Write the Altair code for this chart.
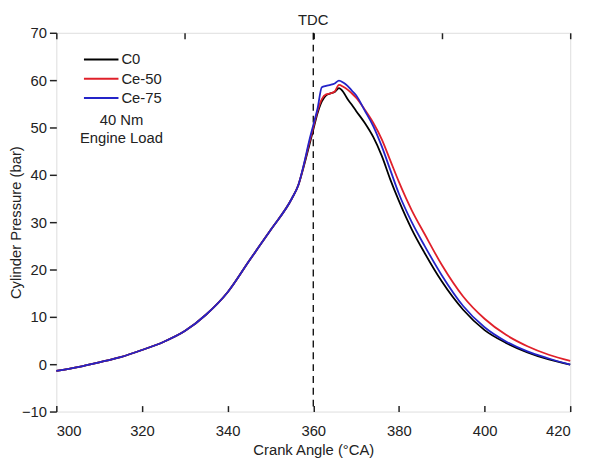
import altair as alt
import pandas as pd

angles = [300, 305, 310, 315, 320, 325, 330, 335, 340, 345, 350, 355, 356.5, 358, 359,
          360, 361, 362, 363, 364, 365, 366, 367, 368, 369, 370, 372, 374, 376, 378,
          380, 383, 386, 390, 395, 400, 405, 410, 415, 420]

c0 = [-1.4, -0.6, 0.4, 1.5, 3.0, 4.7, 7.0, 10.5, 15.2, 21.8, 28.3, 35.0, 37.8, 42.5, 46.0,
      49.5, 53.0, 55.5, 56.8, 57.2, 57.5, 58.3, 57.5, 56.0, 54.8, 53.5, 51.0, 48.0, 44.0, 39.0,
      34.5, 28.5, 23.5, 17.5, 11.5, 7.2, 4.5, 2.5, 1.0, -0.1]

ce50 = [-1.4, -0.6, 0.4, 1.5, 3.0, 4.7, 7.0, 10.5, 15.2, 21.8, 28.3, 35.0, 37.8, 42.8, 46.5,
        50.0, 53.5, 56.0, 57.0, 57.2, 57.6, 59.0, 58.6, 58.0, 57.2, 56.3, 53.8, 51.0, 47.5, 43.0,
        38.5, 32.5, 27.5, 21.0, 14.3, 9.6, 6.2, 3.8, 2.0, 0.7]

ce75 = [-1.4, -0.6, 0.4, 1.5, 3.0, 4.7, 7.0, 10.5, 15.2, 21.8, 28.3, 35.0, 37.8, 43.0, 47.0,
        50.5, 54.0, 58.5, 58.8, 59.0, 59.3, 59.9, 59.5, 58.8, 57.8, 56.8, 53.6, 50.3, 46.0, 41.0,
        36.0, 30.0, 25.0, 18.8, 12.3, 7.8, 4.8, 2.7, 1.2, -0.1]

fuels = ["C0", "Ce-50", "Ce-75"]
colors = ["#000000", "#e0202a", "#2424c8"]
series = [c0, ce50, ce75]

x_ticks = [300, 320, 340, 360, 380, 400, 420]
x_top_ticks = [300, 330, 360, 390, 420]
y_ticks = [-10, 0, 10, 20, 30, 40, 50, 60, 70]
tdc_angle = [360]

rows = []
for f, vals in zip(fuels, series):
    for a, p in zip(angles, vals):
        rows.append({"angle": a, "pressure": p, "fuel": f})
df = pd.DataFrame(rows)

legend_df = pd.DataFrame({"fuel": fuels, "idx": list(range(len(fuels)))})

FONT = "Liberation Sans"
FS = 15
xscale = alt.Scale(domain=[300, 420], nice=False, zero=False)
yscale = alt.Scale(domain=[-10, 70], nice=False, zero=False)
cscale = alt.Scale(domain=fuels, range=colors)

lines = alt.Chart(df).mark_line(strokeWidth=1.8, interpolate="monotone").encode(
    x=alt.X("angle:Q", scale=xscale,
            axis=alt.Axis(orient="bottom", values=x_ticks, ticks=False, domain=False, grid=False,
                          title="Crank Angle (°CA)", labelPadding=12, titlePadding=5,
                          labelFontSize=FS, titleFontSize=FS, labelFont=FONT, titleFont=FONT,
                          titleFontWeight="normal", labelColor="#222", titleColor="#222")),
    y=alt.Y("pressure:Q", scale=yscale,
            axis=alt.Axis(values=y_ticks, tickSize=7, tickColor="#222", tickWidth=1.5,
                          domain=False, grid=False, labelPadding=3,
                          title="Cylinder Pressure (bar)", titleX=-41, titleY=192,
                          titleBaseline="middle", titleAlign="center", titleAngle=270,
                          labelFontSize=FS, titleFontSize=FS, labelFont=FONT, titleFont=FONT,
                          titleFontWeight="normal", labelColor="#222", titleColor="#222")),
    color=alt.Color("fuel:N", scale=cscale, legend=None),
)

tick_df = pd.DataFrame({"angle": x_ticks})
bottom_ticks = alt.Chart(tick_df).mark_point(opacity=0).encode(
    x=alt.X("angle:Q", scale=xscale,
            axis=alt.Axis(orient="bottom", values=x_ticks, offset=-6, tickSize=6, tickWidth=1.5,
                          tickColor="#222", labels=False, domain=False, grid=False, title=None))
)

top_df = pd.DataFrame({"angle": x_top_ticks})
top_ticks = alt.Chart(top_df).mark_point(opacity=0).encode(
    x=alt.X("angle:Q", scale=xscale,
            axis=alt.Axis(orient="top", values=x_top_ticks, offset=-6, tickSize=6, tickWidth=1.5,
                          tickColor="#222", labels=False, domain=False, grid=False, title=None))
)

tdc_df = pd.DataFrame({"angle": tdc_angle})
tdc_rule = alt.Chart(tdc_df).mark_rule(color="black", strokeDash=[7, 5], strokeWidth=1.3).encode(
    x=alt.X("angle:Q", scale=xscale, axis=None)
)
tdc_text = alt.Chart(tdc_df).mark_text(text="TDC", fontSize=FS, font=FONT, color="#222",
                                      baseline="middle").encode(
    x=alt.X("angle:Q", scale=xscale, axis=None),
    y=alt.value(-13)
)

legend_y = alt.Y("idx:Q", scale=alt.Scale(domain=[0, 2], range=[27, 66]), axis=None)
legend_lines = alt.Chart(legend_df).mark_rule(strokeWidth=2).encode(
    x=alt.value(28), x2=alt.value(63), y=legend_y,
    color=alt.Color("fuel:N", scale=cscale, legend=None),
)
legend_text = alt.Chart(legend_df).mark_text(fontSize=FS, font=FONT, color="#222",
                                            align="left", baseline="middle").encode(
    x=alt.value(66), y=legend_y, text="fuel:N",
)

note1 = alt.Chart(tdc_df).mark_text(text="40 Nm", fontSize=FS, font=FONT, color="#222",
                                   baseline="middle", align="center").encode(
    x=alt.value(66), y=alt.value(88))
note2 = alt.Chart(tdc_df).mark_text(text="Engine Load", fontSize=FS, font=FONT, color="#222",
                                   baseline="middle", align="center").encode(
    x=alt.value(66), y=alt.value(107))

chart = alt.layer(tdc_rule, lines, bottom_ticks, top_ticks, tdc_text,
                  legend_lines, legend_text, note1, note2).resolve_axis(
    x="independent"
).resolve_scale(
    y="independent"
).properties(
    width=521, height=384,
    autosize=alt.AutoSizeParams(type="none"),
    padding={"left": 49, "top": 22, "right": 15, "bottom": 47},
).configure_view(
    stroke="#222", strokeWidth=1.5
).configure(background="white")

chart.save("out.html", embed_options={"renderer": "svg", "actions": False})
